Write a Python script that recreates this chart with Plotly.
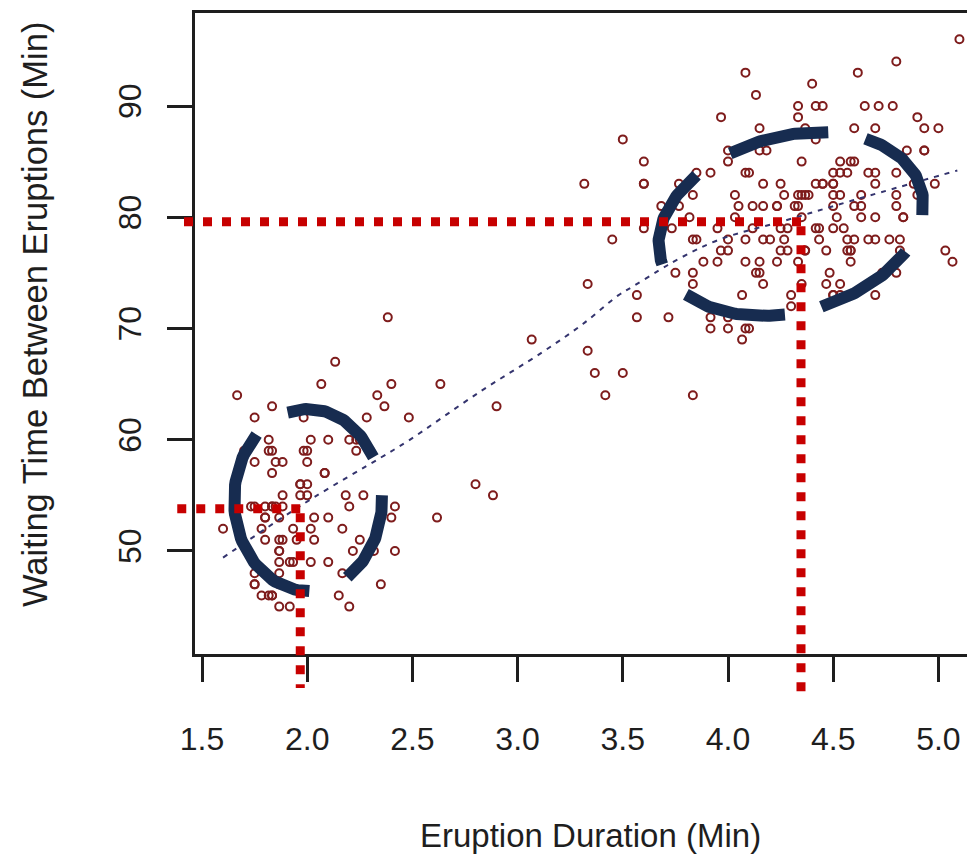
import math
import plotly.graph_objects as go

# ---------------- data ----------------
eruptions = [3.600,1.800,3.333,2.283,4.533,2.883,4.700,3.600,1.950,4.350,
1.833,3.917,4.200,1.750,4.700,2.167,1.750,4.800,1.600,4.250,
1.800,1.750,3.450,3.067,4.533,3.600,1.967,4.083,3.850,4.433,
4.300,4.467,3.367,4.033,3.833,2.017,1.867,4.833,1.833,4.783,
4.350,1.883,4.567,1.750,4.533,3.317,3.833,2.100,4.633,2.000,
4.800,4.716,1.833,4.833,1.733,4.883,3.717,1.667,4.567,4.317,
2.233,4.500,1.750,4.800,1.817,4.400,4.167,4.700,2.067,4.700,
4.033,1.967,4.500,4.000,1.983,5.067,2.017,4.567,3.883,3.600,
4.133,4.333,4.100,2.633,4.067,4.933,3.950,4.517,2.167,4.000,
2.200,4.333,1.867,4.817,1.833,4.300,4.667,3.750,1.867,4.900,
2.483,4.367,2.100,4.500,4.050,1.867,4.700,1.783,4.850,3.683,
4.733,2.300,4.900,4.417,1.700,4.633,2.317,4.600,1.817,4.417,
2.617,4.067,4.250,1.967,4.600,3.767,1.917,4.500,2.267,4.650,
1.867,4.167,2.800,4.333,1.833,4.383,1.883,4.933,2.033,3.733,
4.233,2.233,4.533,4.817,4.333,1.983,4.633,2.017,5.100,1.800,
5.033,4.000,2.400,4.600,3.567,4.000,4.500,4.083,1.800,3.967,
2.200,4.150,2.000,3.833,3.500,4.583,2.367,5.000,1.933,4.617,
1.917,2.083,4.583,3.333,4.167,4.333,4.500,2.417,4.000,4.167,
1.883,4.583,4.250,3.767,2.033,4.433,4.083,1.833,4.417,2.183,
4.800,1.833,4.800,4.100,3.966,4.233,3.500,4.366,2.250,4.667,
2.100,4.350,4.133,1.867,4.600,1.783,4.367,3.850,1.933,4.500,
2.383,4.700,1.867,3.833,3.417,4.233,2.400,4.800,2.000,4.150,
1.867,4.267,1.750,4.483,4.000,4.117,4.083,4.267,3.917,4.550,
4.083,2.417,4.183,2.217,4.450,1.883,1.850,4.283,3.950,2.333,
4.150,2.350,4.933,2.900,4.583,3.833,2.083,4.367,2.133,4.350,
2.200,4.450,3.567,4.500,4.150,3.817,3.917,4.450,2.000,4.283,
4.767,4.533,1.850,4.983,2.250,4.750,4.117,2.150,4.417,
1.817,4.467]

waiting = [79,54,74,62,85,55,88,85,51,85,
54,84,78,47,83,52,62,84,52,79,
51,47,78,69,74,83,55,76,78,79,
73,77,66,80,74,52,48,80,59,90,
80,58,84,58,73,83,64,53,82,59,
75,90,54,80,54,83,71,64,77,81,
59,84,48,82,60,92,78,78,65,73,
82,56,79,71,62,76,60,78,76,83,
75,82,70,65,73,88,76,80,48,86,
60,90,50,78,63,72,84,75,51,82,
62,88,49,83,81,47,84,52,86,81,
75,59,89,79,59,81,50,85,59,87,
53,69,77,56,88,81,45,82,55,90,
45,83,56,89,46,82,51,86,53,79,
81,60,82,77,76,59,80,49,96,53,
77,77,65,81,71,70,81,93,53,89,
45,86,58,78,66,76,63,88,52,93,
49,57,77,68,81,81,73,50,85,74,
55,77,83,83,51,78,84,46,83,55,
81,57,76,84,77,81,87,77,51,78,
60,82,91,53,78,46,77,84,49,83,
71,80,49,75,64,76,53,94,55,76,
50,82,54,75,78,79,78,78,70,79,
70,54,86,50,90,54,54,77,79,64,
75,47,86,63,85,82,57,82,67,74,
54,83,73,73,88,80,71,83,56,79,
78,84,58,83,60,75,81,46,90,
46,74]

# dashed smooth trend line
trend_x = [1.60, 1.81, 2.03, 2.35, 2.48, 2.82, 3.12, 3.31, 3.48, 3.55, 3.67, 3.77, 3.96, 4.28, 4.59, 5.09]
trend_y = [49.4, 52.1, 54.8, 58.4, 59.9, 64.3, 67.9, 70.4, 73.0, 73.8, 75.2, 76.3, 78.0, 79.75, 81.5, 84.2]

x_ticks = [1.5, 2.0, 2.5, 3.0, 3.5, 4.0, 4.5, 5.0]
x_tick_labels = ["1.5", "2.0", "2.5", "3.0", "3.5", "4.0", "4.5", "5.0"]
y_ticks = [50, 60, 70, 80, 90]
y_tick_labels = ["50", "60", "70", "80", "90"]

# highlighted reading points (red dotted guides)
guide_x = [1.967, 4.347]
guide_y = [53.8, 79.6]

# ---------------- layout geometry ----------------
OFF = 8                      # page body margin of the html page
W, H = 975 - OFF, 854 - OFF
ML, MR, MT, MB = 195 - OFF, 0, 13 - OFF, 200
PW, PH = W - ML - MR, H - MT - MB
X0, X1 = 1.4667, 5.174
Y0, Y1 = 40.74, 98.36
PXX = PW / (X1 - X0)
PXY = PH / (Y1 - Y0)

def paper_x(v):
    return (v - X0) / (X1 - X0)

def paper_y(v):
    return (v - Y0) / (Y1 - Y0)

def page_to_paper_x(px):
    return (px - OFF - ML) / PW

def page_to_paper_y(py):
    return (MT + PH - (py - OFF)) / PH

INK = "#1e1e1e"
FONT = "Liberation Sans, Arial, sans-serif"
NAVY = "#172c50"
RED = "#c70000"

fig = go.Figure()

fig.add_trace(go.Scatter(
    x=eruptions, y=waiting, mode="markers",
    marker=dict(symbol="circle-open", size=8, color="#7e1c1c", line=dict(width=2, color="#7e1c1c")),
    hoverinfo="skip"))

fig.add_trace(go.Scatter(
    x=trend_x, y=trend_y, mode="lines", line_shape="spline",
    line=dict(color="#34346e", width=2, dash="5px,6px"), hoverinfo="skip"))

# dashed ellipses (centre in data units, radii in pixels)
ellipses = [
    dict(cx=2.004, cy=54.58, a=74, b=91, rot=0,
         arcs=[(28, 106), (-58, 3), (134, 271)]),
    dict(cx=4.299, cy=79.39, a=135, b=88, rot=15,
         arcs=[(63.7, 107.4), (-16.8, 45.8), (-86.6, -39.9), (207.6, 257.5), (125.6, 183.7)]),
]
for e in ellipses:
    th = math.radians(e["rot"])
    for t0, t1 in e["arcs"]:
        n = 60
        xs, ys = [], []
        for i in range(n + 1):
            t = math.radians(t0 + (t1 - t0) * i / n)
            u, v = e["a"] * math.cos(t), e["b"] * math.sin(t)
            dx = u * math.cos(th) - v * math.sin(th)
            dy = u * math.sin(th) + v * math.cos(th)
            xs.append(e["cx"] + dx / PXX)
            ys.append(e["cy"] + dy / PXY)
        fig.add_trace(go.Scatter(x=xs, y=ys, mode="lines",
                                 line=dict(color=NAVY, width=12), hoverinfo="skip"))

shapes = []
h_left_px = [177, 174]
v_bottom_px = [688, 692]
for gx, gy, hl, vb in zip(guide_x, guide_y, h_left_px, v_bottom_px):
    cxp, cyp = paper_x(gx), paper_y(gy)
    shapes.append(dict(type="line", xref="paper", yref="paper",
                       x0=cxp, y0=cyp, x1=page_to_paper_x(hl), y1=cyp,
                       line=dict(color=RED, width=9, dash="9px,10px")))
    shapes.append(dict(type="line", xref="paper", yref="paper",
                       x0=cxp, y0=cyp - 4.5 / PH, x1=cxp, y1=page_to_paper_y(vb),
                       line=dict(color=RED, width=9, dash="9px,10px")))

fig.update_layout(
    width=W, height=H,
    margin=dict(l=ML, r=MR, t=MT, b=MB, pad=0),
    paper_bgcolor="white", plot_bgcolor="white",
    showlegend=False,
    font=dict(family=FONT, color=INK),
    shapes=shapes,
    xaxis=dict(range=[X0, X1], tickvals=x_ticks, ticktext=x_tick_labels,
               ticks="outside", ticklen=25, tickwidth=2.5, tickcolor=INK,
               showline=True, linecolor=INK, linewidth=2.5, mirror=True,
               showgrid=False, zeroline=False,
               tickfont=dict(size=32, color=INK, family=FONT),
               ticklabelstandoff=30),
    yaxis=dict(range=[Y0, Y1], tickvals=y_ticks, ticktext=y_tick_labels,
               tickangle=-90,
               ticks="outside", ticklen=25, tickwidth=2.5, tickcolor=INK,
               showline=True, linecolor=INK, linewidth=2.5, mirror=False,
               showgrid=False, zeroline=False,
               tickfont=dict(size=32, color=INK, family=FONT),
               ticklabelstandoff=13),
    annotations=[
        dict(text="Eruption Duration (Min)", xref="paper", yref="paper",
             x=page_to_paper_x(590), y=page_to_paper_y(835), xanchor="center", yanchor="middle",
             showarrow=False, font=dict(size=33, color=INK, family=FONT)),
        dict(text="Waiting Time Between Eruptions (Min)", xref="paper", yref="paper",
             x=page_to_paper_x(35), y=page_to_paper_y(315), xanchor="center", yanchor="middle",
             textangle=-90, showarrow=False, font=dict(size=34.5, color=INK, family=FONT)),
    ],
)

fig.write_html("out.html", config={"displayModeBar": False})
